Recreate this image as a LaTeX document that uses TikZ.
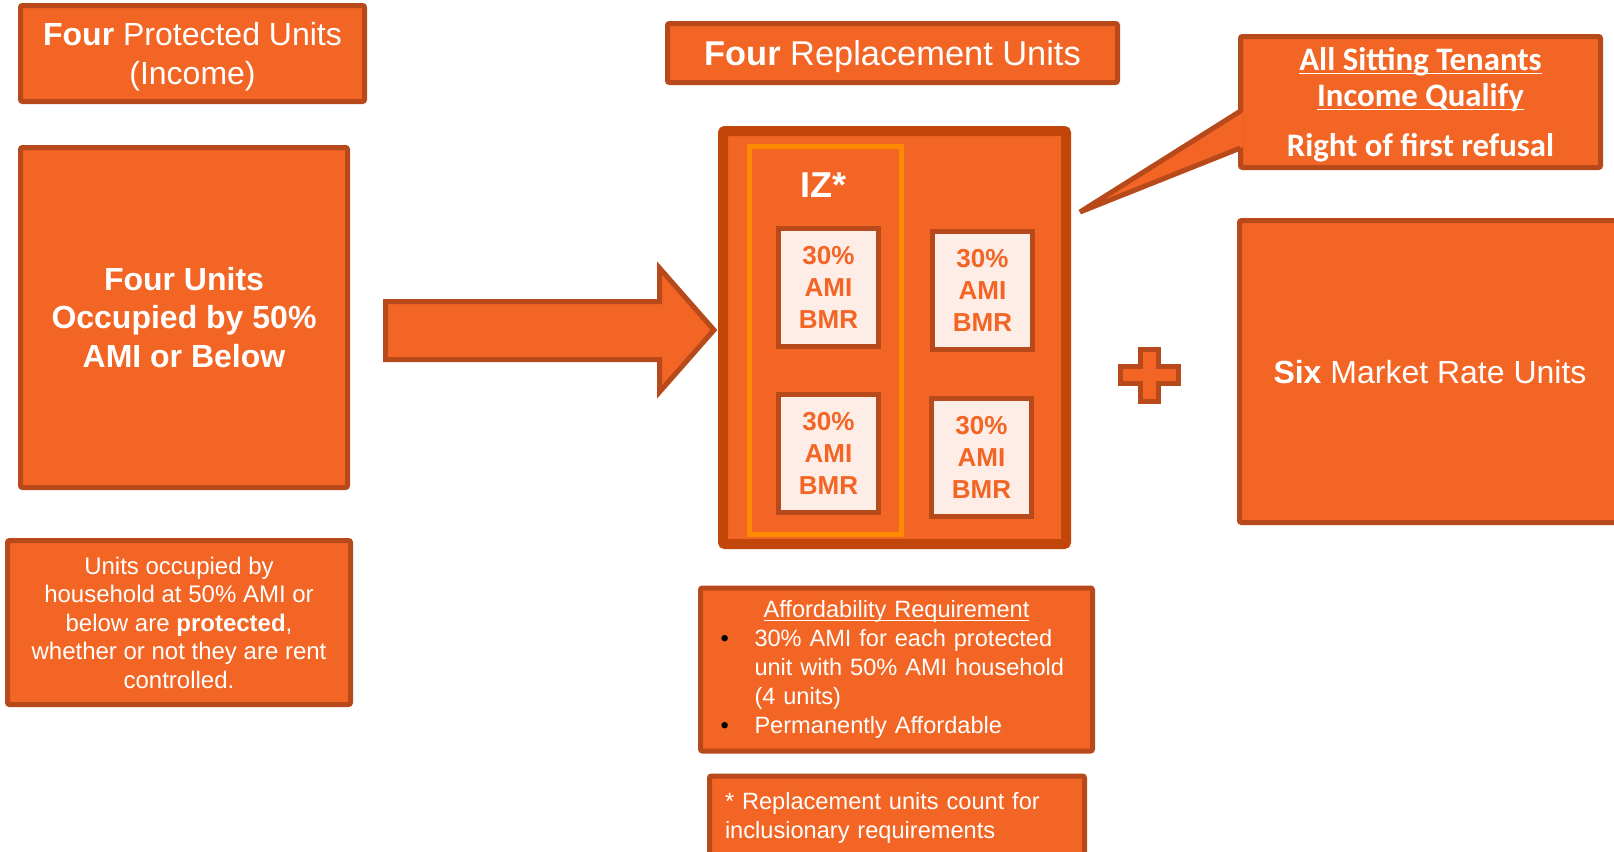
\documentclass[tikz,border=0pt]{standalone}
\usepackage{fontspec}
\setmainfont{Liberation Sans}
\newfontfamily\calfont{Carlito}

\definecolor{unitorange}{HTML}{F36524}
\definecolor{unitedge}{HTML}{B7491A}
\definecolor{contedge}{HTML}{C2450A}
\definecolor{izedge}{HTML}{FF8C00}
\definecolor{bmrfill}{HTML}{FDEDE6}

\newcommand\ulbase[1]{\underline{\raisebox{0pt}[\height][0pt]{#1}}}

\begin{document}
\begin{tikzpicture}[x=0.5pt,y=-0.5pt]
	\tikzset{box/.style = {draw=unitedge, fill=unitorange, line width=2.5pt, text=white, align=center, inner sep=0pt, rounded corners=1pt}}
	\tikzset{bmr/.style = {draw=unitedge, fill=bmrfill, line width=2.5pt, text=unitorange, align=center, inner sep=0pt,
		minimum width=50pt, minimum height=59pt, font=\fontsize{13}{16}\selectfont\bfseries}}
	\tikzset{blockarrow/.style = {draw=unitedge, fill=unitorange, line width=2.5pt}}
	\clip (0,0) rectangle (1614,852);
	\fill[white] (0,0) rectangle (1614,852);
	% left column
	\node[box, minimum width=172pt, minimum height=48pt, text depth=0pt, font=\fontsize{16}{19.5}\selectfont] (prot) at (192.5,53.5) {\textbf{Four} Protected Units\\(Income)};
	\node[box, minimum width=163.5pt, minimum height=170pt, font=\fontsize{16}{19.3}\selectfont\bfseries] (occ) at (184,317.5) {Four Units\\Occupied by 50\%\\AMI or Below};
	\node[box, minimum width=171.5pt, minimum height=82pt, font=\fontsize{12}{14.25}\selectfont] (note) at (179,622.5) {Units occupied by\\household at 50\% AMI or\\below are \textbf{protected},\\whether or not they are rent\\controlled.};
	% arrow
	\draw[blockarrow] (385.5,301.5) -- (659.5,301.5) -- (659.5,268) -- (714,330) -- (659.5,392) -- (659.5,359.5) -- (385.5,359.5) -- cycle;
	% replacement units
	\node[box, minimum width=225pt, minimum height=29.5pt, text depth=0pt, font=\fontsize{17.2}{20}\selectfont] (repl) at (892.5,53) {\textbf{Four} Replacement Units};
	\node[box, draw=contedge, line width=5pt, minimum width=171.5pt, minimum height=206.5pt] (cont) at (894.5,337.5) {};
	\node[draw=izedge, line width=2.5pt, minimum width=76pt, minimum height=194pt, inner sep=0pt] (iz) at (825.5,340.5) {};
	\node[text=white, anchor=base, font=\fontsize{18}{20}\selectfont\bfseries] (izlabel) at (823,197) {IZ*};
	\node[bmr] (bmra) at (828.5,287.5) {30\%\\AMI\\BMR};
	\node[bmr] (bmrb) at (982.5,290) {30\%\\AMI\\BMR};
	\node[bmr] (bmrc) at (828.5,453.5) {30\%\\AMI\\BMR};
	\node[bmr] (bmrd) at (981.5,457.5) {30\%\\AMI\\BMR};
	\node[box, minimum width=196pt, minimum height=81.5pt, text width=184pt, align=left, font=\fontsize{11.8}{14.5}\selectfont] (aff) at (896.5,669.5)
		{\makebox[\linewidth]{\ulbase{Affordability Requirement}}\\
		\makebox[21pt][l]{\hspace*{4pt}\textcolor{black}{\textbullet}}30\% AMI for each protected\\
		\hspace*{21pt}unit with 50\% AMI household\\
		\hspace*{21pt}(4 units)\\
		\makebox[21pt][l]{\hspace*{4pt}\textcolor{black}{\textbullet}}Permanently Affordable};
	\node[box, minimum width=187.5pt, minimum height=42pt, text width=172pt, align=left, font=\fontsize{11.8}{14.5}\selectfont] (foot) at (897,818)
		{* Replacement units count for\\inclusionary requirements};
	% right column
	\draw[blockarrow] (1140,349) -- (1158,349) -- (1158,366) -- (1178,366) -- (1178,383) -- (1158,383) -- (1158,401) -- (1140,401) -- (1140,383) -- (1120,383) -- (1120,366) -- (1140,366) -- cycle;
	\node[box, minimum width=190.5pt, minimum height=151pt, text depth=0pt, font=\fontsize{16}{18}\selectfont] (six) at (1430,371.5) {\textbf{Six} Market Rate Units};
	\node[box, minimum width=180pt, minimum height=65.5pt, text depth=0pt, font=\fontsize{16.4}{18}\selectfont\calfont\bfseries] (call) at (1420.5,102)
		{\ulbase{All Sitting Tenants}\\\ulbase{Income Qualify}\\[7pt]Right of first refusal};
	\coordinate (tip) at (1080,212);
	\fill[unitorange] (1243,112) -- (tip) -- (1243,147) -- cycle;
	\draw[draw=unitedge, line width=2.5pt] (1240.5,111) -- (tip) -- (1240.5,148);
\end{tikzpicture}
\end{document}
